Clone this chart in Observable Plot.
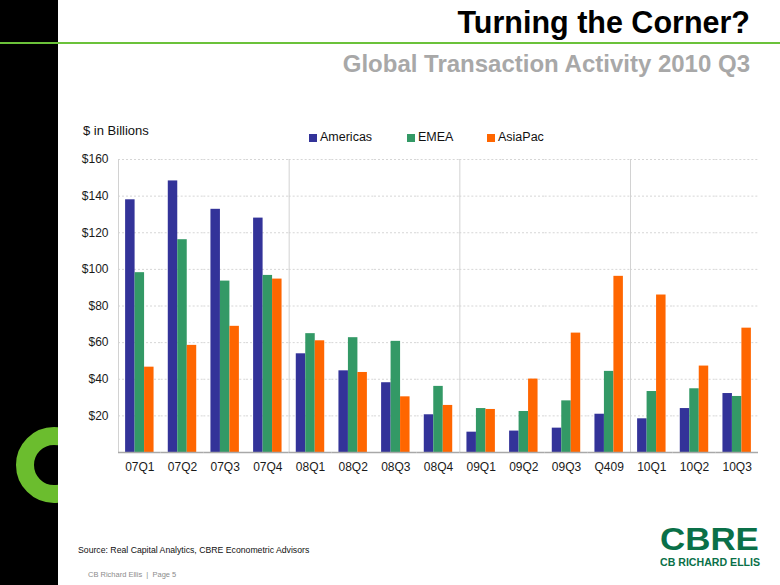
<!DOCTYPE html>
<html><head><meta charset="utf-8">
<script src="https://cdn.jsdelivr.net/npm/d3@7"></script>
<script src="https://cdn.jsdelivr.net/npm/@observablehq/plot@0.6"></script>
<style>
body{margin:0;background:#fff;font-family:"Liberation Sans",Arial,sans-serif;}
#page{position:relative;width:780px;height:585px;overflow:hidden;background:#fff;}
#strip{position:absolute;left:0;top:0;width:58px;height:585px;background:#000;overflow:hidden;}
#ring{position:absolute;left:15.5px;top:426.5px;width:76px;height:76px;box-sizing:border-box;border:18px solid #6bbd2e;border-radius:50%;}
#hrule{position:absolute;left:0;top:42px;width:780px;height:2px;background:#6bc23a;}
#title{position:absolute;right:30px;top:7px;font-weight:bold;font-size:30.5px;line-height:1;color:#000;white-space:nowrap;}
#subtitle{position:absolute;right:30px;top:52px;font-weight:bold;font-size:24px;line-height:1;color:#a8a8a8;white-space:nowrap;}
#units{position:absolute;left:83px;top:124px;font-size:13px;line-height:1;color:#111;}
#legend{position:absolute;left:0;top:131px;width:780px;height:16px;font-size:12.5px;line-height:1;color:#111;}
#legend .item{position:absolute;top:0;white-space:nowrap;}
#legend .sw{display:inline-block;width:8px;height:8px;margin-right:3px;vertical-align:-1px;}
#chart{position:absolute;left:0;top:150px;}
#source{position:absolute;left:78px;top:546px;font-size:8.7px;line-height:1;color:#111;}
#footer{position:absolute;left:88px;top:571px;font-size:7.5px;line-height:1;color:#8c8c8c;white-space:pre;}
#logo1{position:absolute;left:660px;top:523.4px;font-weight:bold;font-size:32px;line-height:1;color:#0a7048;transform:scaleX(1.09);transform-origin:0 0;}
#logo2{position:absolute;left:660px;top:558px;font-weight:bold;font-size:10px;line-height:1;color:#0a7048;transform:scaleX(1.06);transform-origin:0 0;white-space:nowrap;}
</style></head><body>
<div id="page">
  <div id="strip"><div id="ring"></div></div>
  <div id="hrule"></div>
  <div id="title">Turning the Corner?</div>
  <div id="subtitle">Global Transaction Activity 2010 Q3</div>
  <div id="units">$ in Billions</div>
  <div id="legend"></div>
  <div id="chart"></div>
  <div id="source">Source: Real Capital Analytics, CBRE Econometric Advisors</div>
  <div id="footer">CB Richard Ellis  |  Page 5</div>
  <div id="logo1">CBRE</div>
  <div id="logo2">CB RICHARD ELLIS</div>
</div>
<script>
const quarters = ["07Q1","07Q2","07Q3","07Q4","08Q1","08Q2","08Q3","08Q4","09Q1","09Q2","09Q3","Q409","10Q1","10Q2","10Q3"];
const seriesNames = ["Americas","EMEA","AsiaPac"];
const americas = [138,148.3,132.8,128,53.9,44.6,38.1,20.6,11.1,11.7,13.3,20.9,18.4,24,32.2];
const emea = [98.2,116.2,93.6,96.7,64.9,62.7,60.7,36.1,24,22.4,28.2,44.3,33.3,34.8,30.6];
const asiapac = [46.6,58.5,68.9,94.7,61,43.7,30.4,25.7,23.5,40.1,65.2,96.2,86,47.2,67.9];
const seriesColors = ["#333399","#339966","#ff6600"];
const yTicks = [20,40,60,80,100,120,140,160];
const yearBreaks = ["07Q1","08Q1","09Q1","10Q1"];
const legendLeft = [309,407,487];

const seriesValues = [americas, emea, asiapac];
const rows = quarters.flatMap((q, i) => seriesNames.map((s, k) => ({q, s, v: seriesValues[k][i]})));

// legend
const legend = document.getElementById("legend");
seriesNames.forEach((name, k) => {
  const it = document.createElement("div");
  it.className = "item";
  it.style.left = legendLeft[k] + "px";
  it.innerHTML = `<span class="sw" style="background:${seriesColors[k]}"></span>${name}`;
  legend.appendChild(it);
});

const chart = Plot.plot({
  width: 780,
  height: 334,
  marginLeft: 118,
  marginRight: 22,
  marginTop: 9,
  marginBottom: 32,
  style: {fontFamily: "'Liberation Sans', Arial, sans-serif", fontSize: "12px", color: "#1a1a1a", background: "transparent"},
  fx: {domain: quarters, padding: 0, round: false, axis: "bottom", label: null, tickSize: 0, tickPadding: 10},
  x: {domain: seriesNames, axis: null, paddingInner: 0, paddingOuter: 0.75, round: false},
  y: {domain: [0, 160], axis: "left", ticks: yTicks, tickFormat: d => "$" + d, tickSize: 0, tickPadding: 10, label: null},
  color: {domain: seriesNames, range: seriesColors},
  marks: [
    Plot.gridY(yTicks, {stroke: "#d6d6d6", strokeOpacity: 1, strokeDasharray: "2,2"}),
    Plot.ruleX(yearBreaks, {fx: d => d, x: () => "Americas", dx: -11.85, y1: 0, y2: 160, stroke: "#d2d2d2"}),
    Plot.barY(rows, {fx: "q", x: "s", y: "v", fill: "s"}),
    Plot.ruleY([0], {stroke: "#a8a8a8", strokeWidth: 1.5})
  ]
});
document.getElementById("chart").appendChild(chart);
</script>
</body></html>
